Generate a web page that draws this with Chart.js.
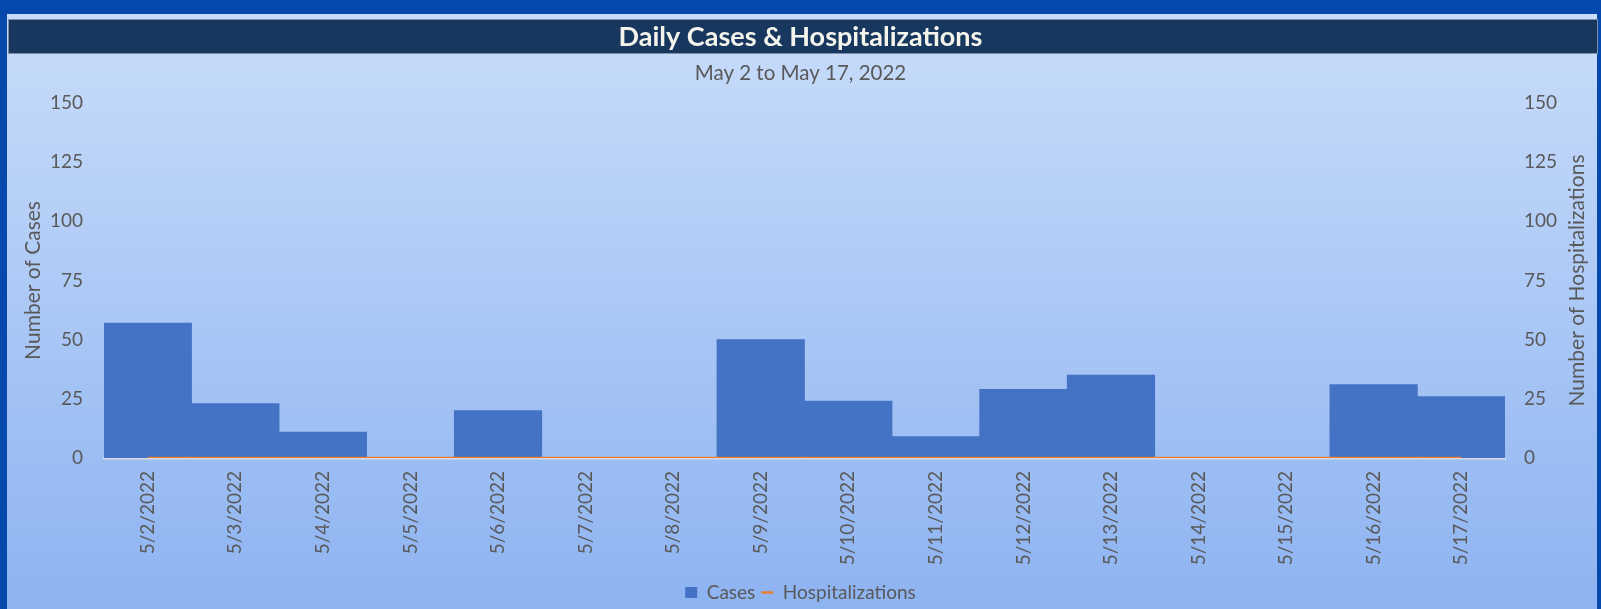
<!DOCTYPE html>
<html>
<head>
<meta charset="utf-8">
<script src="https://cdn.jsdelivr.net/npm/chart.js@4.4.1/dist/chart.umd.min.js"></script>
<style>
  html, body { margin: 0; padding: 0; background: #0649AD; }
  #wrap { width: 1601px; height: 609px; }
</style>
</head>
<body>
<div id="wrap"><canvas id="chart" width="1601" height="609"></canvas></div>
<script>
// Daily counts, May 2 – May 17, 2022
const dates = ['5/2/2022', '5/3/2022', '5/4/2022', '5/5/2022', '5/6/2022', '5/7/2022', '5/8/2022', '5/9/2022',
               '5/10/2022', '5/11/2022', '5/12/2022', '5/13/2022', '5/14/2022', '5/15/2022', '5/16/2022', '5/17/2022'];
const cases = [57, 23, 11, 0, 20, 0, 0, 50, 24, 9, 29, 35, 0, 0, 31, 26];
const hospitalizations = [0, 0, 0, 0, 0, 0, 0, 0, 0, 0, 0, 0, 0, 0, 0, 0];
const axisMax = 150;
const axisStep = 25;

const titleText = 'Daily Cases & Hospitalizations';
const subtitleText = 'May 2 to May 17, 2022';
const leftAxisTitle = 'Number of Cases';
const rightAxisTitle = 'Number of Hospitalizations';

const FONT = 'Lato';
const GREY = '#595959';

// Blue frame, light gradient panel and navy title band
const backdrop = {
  id: 'backdrop',
  beforeDraw(chart) {
    const { ctx, width, height } = chart;
    ctx.save();
    ctx.fillStyle = '#0649AD';
    ctx.fillRect(0, 0, width, height);
    const g = ctx.createLinearGradient(0, 14, 0, height);
    g.addColorStop(0, '#C9DDFA');
    g.addColorStop(1, '#8DB3F1');
    ctx.fillStyle = g;
    ctx.fillRect(7, 14, 1590, height - 14);
    ctx.fillStyle = '#17375E';
    ctx.fillRect(8, 19, 1590, 34);
    ctx.strokeStyle = '#7F8FA6';
    ctx.lineWidth = 1;
    ctx.strokeRect(8.5, 19.5, 1589, 34);
    ctx.restore();
  }
};

// Right-hand axis title, reading bottom to top
const rightTitle = {
  id: 'rightTitle',
  afterDraw(chart) {
    const { ctx, chartArea } = chart;
    ctx.save();
    ctx.translate(1577, (chartArea.top + chartArea.bottom) / 2);
    ctx.rotate(-Math.PI / 2);
    ctx.fillStyle = GREY;
    ctx.font = '21px ' + FONT;
    ctx.textAlign = 'center';
    ctx.textBaseline = 'middle';
    ctx.fillText(rightAxisTitle, 0, 0);
    ctx.restore();
  }
};

new Chart(document.getElementById('chart'), {
  data: {
    labels: dates,
    datasets: [
      {
        type: 'bar',
        label: 'Cases',
        data: cases,
        yAxisID: 'y',
        backgroundColor: '#4472C4',
        borderWidth: 0,
        barPercentage: 1,
        categoryPercentage: 1,
        pointStyle: 'rect',
        order: 2
      },
      {
        type: 'line',
        label: 'Hospitalizations',
        data: hospitalizations,
        yAxisID: 'y1',
        borderColor: '#ED7D31',
        backgroundColor: '#ED7D31',
        borderWidth: 2.5,
        pointRadius: 0,
        pointStyle: 'line',
        order: 1
      }
    ]
  },
  options: {
    responsive: false,
    animation: false,
    layout: { padding: { top: 19, left: 0, right: 0, bottom: -3 } },
    plugins: {
      title: {
        display: true,
        text: titleText,
        color: '#F4F4EC',
        font: { family: FONT, size: 27, weight: 'bold' },
        padding: { top: 2, bottom: 0 }
      },
      subtitle: {
        display: true,
        text: subtitleText,
        color: GREY,
        font: { family: FONT, size: 20.5 },
        padding: { top: 8, bottom: 17 }
      },
      legend: {
        position: 'bottom',
        labels: {
          usePointStyle: true,
          boxWidth: 11,
          boxHeight: 11,
          pointStyleWidth: 12,
          padding: 6,
          color: GREY,
          font: { family: FONT, size: 19 },
          sort: (a, b) => a.datasetIndex - b.datasetIndex
        }
      },
      tooltip: { enabled: false }
    },
    scales: {
      x: {
        offset: true,
        grid: { display: false, drawTicks: false },
        border: { display: true, color: '#D6DCE6', width: 2.5 },
        ticks: {
          autoSkip: false,
          minRotation: 90,
          maxRotation: 90,
          padding: 13,
          color: GREY,
          font: { family: FONT, size: 19 }
        },
        afterFit(scale) { scale.height = 119; }
      },
      y: {
        position: 'left',
        min: 0,
        max: axisMax,
        grid: { display: false, drawTicks: false },
        border: { display: false },
        ticks: {
          stepSize: axisStep,
          padding: 21,
          color: GREY,
          font: { family: FONT, size: 19 }
        },
        title: {
          display: true,
          text: leftAxisTitle,
          color: GREY,
          font: { family: FONT, size: 21 },
          padding: { top: 21, bottom: 0 }
        },
        afterFit(scale) { scale.width = 104; }
      },
      y1: {
        position: 'right',
        min: 0,
        max: axisMax,
        grid: { display: false, drawTicks: false },
        border: { display: false },
        ticks: {
          stepSize: axisStep,
          padding: 19,
          color: GREY,
          font: { family: FONT, size: 19 }
        },
        afterFit(scale) { scale.width = 96; }
      }
    }
  },
  plugins: [backdrop, rightTitle]
});
</script>
</body>
</html>
